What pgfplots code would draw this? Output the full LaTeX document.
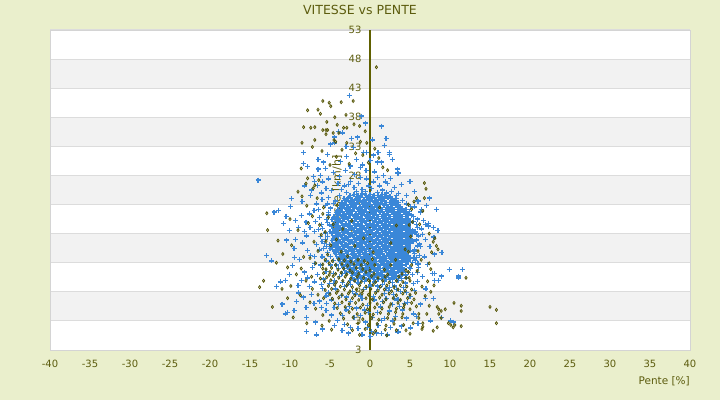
\documentclass[border=0pt]{standalone}
\usepackage{pgfplots}
\pgfplotsset{compat=1.18}
\usepackage{fontspec}
\setmainfont{DejaVu Sans}
\definecolor{bg}{RGB}{234,239,204}
\definecolor{bandgray}{RGB}{242,242,242}
\definecolor{gridgray}{RGB}{220,220,220}
\definecolor{bordergray}{RGB}{212,212,212}
\definecolor{txt}{RGB}{92,92,14}
\definecolor{axisol}{RGB}{96,96,0}
\definecolor{ptblue}{RGB}{58,135,216}
\definecolor{ptolive}{RGB}{82,82,0}
\begin{document}
\begin{tikzpicture}[x=1pt,y=1pt]
\path[use as bounding box] (0,0) rectangle (720,400);
\fill[bg] (0,0) rectangle (720,400);
\fill[white] (50,50) rectangle (690,370);
\foreach \i in {1,3,5,7,9} {\fill[bandgray] (50,{50+\i*320/11}) rectangle (690,{50+(\i+1)*320/11});}
\begin{axis}[
  at={(50pt,50pt)}, anchor=south west, scale only axis,
  width=640pt, height=320pt,
  xmin=-40, xmax=40, ymin=-2, ymax=53,
  xtick={-40,-35,...,40}, ytick={-2,3,...,53},
  yticklabels={3,3,8,13,18,23,28,33,38,43,48,53},
  axis line style={draw=bordergray, line width=0.8pt},
  ymajorgrids, grid style={draw=gridgray, line width=1pt},
  major tick length=0pt,
  tick label style={font=\fontsize{10}{12}\selectfont, text=txt},
  yticklabel style={xshift=315pt},
  xticklabel style={yshift=-7pt},
  /pgf/number format/assume math mode=true,
]
\node[rotate=90, font=\fontsize{11}{13}\selectfont, text=txt] at (axis cs:-4.1,24.6) {Vitesse [km/h]};
% blue series
\addplot[only marks, mark=+, mark size=2.5pt, color=ptblue, mark options={line width=1.3pt}] coordinates {
(-2.5,24.5)(-2,24.7)(-1.5,24.6)(-1,24.8)(-0.5,24.5)(0,24.7)(0.5,24.6)(1,24.5)(1.5,24.7)(2,24.6)(2.5,24.4)
(-3.25,24)(-2.75,24.1)(-2.25,23.9)(-1.75,24)(-1.25,24.2)(-0.75,23.9)(-0.25,24.1)(0.25,24)(0.75,23.8)(1.25,24.1)(1.75,24)(2.25,24.2)(2.75,23.9)(3.25,24)
(-3.5,23.4)(-3,23.5)(-2.5,23.3)(-2,23.4)(-1.5,23.6)(-1,23.3)(-0.5,23.4)(0,23.5)(0.5,23.3)(1,23.4)(1.5,23.6)(2,23.4)(2.5,23.3)(3,23.5)(3.5,23.4)
(-3.75,22.8)(-3.25,22.9)(-2.75,22.7)(-2.25,22.8)(-1.75,23)(-1.25,22.7)(-0.75,22.8)(-0.25,22.9)(0.25,22.7)(0.75,22.8)(1.25,23)(1.75,22.8)(2.25,22.7)(2.75,22.9)(3.25,22.8)(3.75,22.7)
(-4,22.2)(-3.5,22.3)(-3,22.1)(-2.5,22.2)(-2,22.4)(-1.5,22.1)(-1,22.2)(-0.5,22.3)(0,22.1)(0.5,22.2)(1,22.4)(1.5,22.2)(2,22.1)(2.5,22.3)(3,22.2)(3.5,22.1)(4,22.3)(4.5,22.2)
(-4.25,21.6)(-3.75,21.7)(-3.25,21.5)(-2.75,21.6)(-2.25,21.8)(-1.75,21.5)(-1.25,21.6)(-0.75,21.7)(-0.25,21.5)(0.25,21.6)(0.75,21.8)(1.25,21.6)(1.75,21.5)(2.25,21.7)(2.75,21.6)(3.25,21.5)(3.75,21.7)(4.25,21.6)(4.75,21.5)
(-4.5,21)(-4,21.1)(-3.5,20.9)(-3,21)(-2.5,21.2)(-2,20.9)(-1.5,21)(-1,21.1)(-0.5,20.9)(0,21)(0.5,21.2)(1,21)(1.5,20.9)(2,21.1)(2.5,21)(3,20.9)(3.5,21.1)(4,21)(4.5,20.9)
(-4.75,20.4)(-4.25,20.5)(-3.75,20.3)(-3.25,20.4)(-2.75,20.6)(-2.25,20.3)(-1.75,20.4)(-1.25,20.5)(-0.75,20.3)(-0.25,20.4)(0.25,20.6)(0.75,20.4)(1.25,20.3)(1.75,20.5)(2.25,20.4)(2.75,20.3)(3.25,20.5)(3.75,20.4)(4.25,20.3)(4.75,20.5)
(-4.5,19.8)(-4,19.9)(-3.5,19.7)(-3,19.8)(-2.5,20)(-2,19.7)(-1.5,19.8)(-1,19.9)(-0.5,19.7)(0,19.8)(0.5,20)(1,19.8)(1.5,19.7)(2,19.9)(2.5,19.8)(3,19.7)(3.5,19.9)(4,19.8)(4.5,19.7)(5,19.9)
(-4.75,19.2)(-4.25,19.3)(-3.75,19.1)(-3.25,19.2)(-2.75,19.4)(-2.25,19.1)(-1.75,19.2)(-1.25,19.3)(-0.75,19.1)(-0.25,19.2)(0.25,19.4)(0.75,19.2)(1.25,19.1)(1.75,19.3)(2.25,19.2)(2.75,19.1)(3.25,19.3)(3.75,19.2)(4.25,19.1)(4.75,19.3)
(-4.5,18.6)(-4,18.7)(-3.5,18.5)(-3,18.6)(-2.5,18.8)(-2,18.5)(-1.5,18.6)(-1,18.7)(-0.5,18.5)(0,18.6)(0.5,18.8)(1,18.6)(1.5,18.5)(2,18.7)(2.5,18.6)(3,18.5)(3.5,18.7)(4,18.6)(4.5,18.5)(5,18.7)
(-4.75,18)(-4.25,18.1)(-3.75,17.9)(-3.25,18)(-2.75,18.2)(-2.25,17.9)(-1.75,18)(-1.25,18.1)(-0.75,17.9)(-0.25,18)(0.25,18.2)(0.75,18)(1.25,17.9)(1.75,18.1)(2.25,18)(2.75,17.9)(3.25,18.1)(3.75,18)(4.25,17.9)(4.75,18.1)(5.25,18)
(-4.5,17.4)(-4,17.5)(-3.5,17.3)(-3,17.4)(-2.5,17.6)(-2,17.3)(-1.5,17.4)(-1,17.5)(-0.5,17.3)(0,17.4)(0.5,17.6)(1,17.4)(1.5,17.3)(2,17.5)(2.5,17.4)(3,17.3)(3.5,17.5)(4,17.4)(4.5,17.3)(5,17.5)
(-4.75,16.8)(-4.25,16.9)(-3.75,16.7)(-3.25,16.8)(-2.75,17)(-2.25,16.7)(-1.75,16.8)(-1.25,16.9)(-0.75,16.7)(-0.25,16.8)(0.25,17)(0.75,16.8)(1.25,16.7)(1.75,16.9)(2.25,16.8)(2.75,16.7)(3.25,16.9)(3.75,16.8)(4.25,16.7)(4.75,16.9)(5.25,16.8)
(-4.5,16.2)(-4,16.3)(-3.5,16.1)(-3,16.2)(-2.5,16.4)(-2,16.1)(-1.5,16.2)(-1,16.3)(-0.5,16.1)(0,16.2)(0.5,16.4)(1,16.2)(1.5,16.1)(2,16.3)(2.5,16.2)(3,16.1)(3.5,16.3)(4,16.2)(4.5,16.1)(5,16.3)
(-4.75,15.6)(-4.25,15.7)(-3.75,15.5)(-3.25,15.6)(-2.75,15.8)(-2.25,15.5)(-1.75,15.6)(-1.25,15.7)(-0.75,15.5)(-0.25,15.6)(0.25,15.8)(0.75,15.6)(1.25,15.5)(1.75,15.7)(2.25,15.6)(2.75,15.5)(3.25,15.7)(3.75,15.6)(4.25,15.5)(4.75,15.7)
(-4.5,15)(-4,15.1)(-3.5,14.9)(-3,15)(-2.5,15.2)(-2,14.9)(-1.5,15)(-1,15.1)(-0.5,14.9)(0,15)(0.5,15.2)(1,15)(1.5,14.9)(2,15.1)(2.5,15)(3,14.9)(3.5,15.1)(4,15)(4.5,14.9)(5,15.1)
(-4.25,14.4)(-3.75,14.5)(-3.25,14.3)(-2.75,14.4)(-2.25,14.6)(-1.75,14.3)(-1.25,14.4)(-0.75,14.5)(-0.25,14.3)(0.25,14.4)(0.75,14.6)(1.25,14.4)(1.75,14.3)(2.25,14.5)(2.75,14.4)(3.25,14.3)(3.75,14.5)(4.25,14.4)(4.75,14.3)
(-4,13.8)(-3.5,13.9)(-3,13.7)(-2.5,13.8)(-2,14)(-1.5,13.7)(-1,13.8)(-0.5,13.9)(0,13.7)(0.5,13.8)(1,14)(1.5,13.8)(2,13.7)(2.5,13.9)(3,13.8)(3.5,13.7)(4,13.9)(4.5,13.8)(5,13.7)
(-3.75,13.2)(-3.25,13.3)(-2.75,13.1)(-2.25,13.2)(-1.75,13.4)(-1.25,13.1)(-0.75,13.2)(-0.25,13.3)(0.25,13.1)(0.75,13.2)(1.25,13.4)(1.75,13.2)(2.25,13.1)(2.75,13.3)(3.25,13.2)(3.75,13.1)(4.25,13.3)(4.75,13.2)
(-3.5,12.6)(-3,12.7)(-2.5,12.5)(-2,12.6)(-1.5,12.8)(-1,12.5)(-0.5,12.6)(0,12.7)(0.5,12.5)(1,12.6)(1.5,12.8)(2,12.6)(2.5,12.5)(3,12.7)(3.5,12.6)(4,12.5)(4.5,12.7)
(-3.25,12)(-2.75,12.1)(-2.25,11.9)(-1.75,12)(-1.25,12.2)(-0.75,11.9)(-0.25,12)(0.25,12.1)(0.75,11.9)(1.25,12)(1.75,12.2)(2.25,12)(2.75,11.9)(3.25,12.1)(3.75,12)(4.25,11.9)
(-3,11.4)(-2.5,11.5)(-2,11.3)(-1.5,11.4)(-1,11.6)(-0.5,11.3)(0,11.4)(0.5,11.5)(1,11.3)(1.5,11.4)(2,11.6)(2.5,11.4)(3,11.3)(3.5,11.5)(4,11.4)
(-2.25,10.8)(-1.75,10.9)(-1.25,10.7)(-0.75,10.8)(-0.25,11)(0.25,10.7)(0.75,10.8)(1.25,10.9)(1.75,10.7)(2.25,10.8)(2.75,11)(3.25,10.8)(3.75,10.7)
(-2,10.2)(-1.5,10.3)(-1,10.1)(-0.5,10.2)(0,10.4)(0.5,10.1)(1,10.2)(1.5,10.3)(2,10.1)(2.5,10.2)(3,10.4)
(-2.9,25.1)(-1.7,25.3)(-0.6,25.2)(0.9,25.1)(2.1,25.0)(3.3,24.6)(-3.8,24.5)(-4.3,23.6)(4.1,23.7)(4.6,23.1)(-0.2,26.2)(1.9,26.9)(-2.7,26.4)(-1.2,27.6)(0.9,27.7)
(5.4,20.1)(5.9,19.1)(5.7,18.3)(6.1,17.6)(5.8,16.9)(6.3,15.8)(5.9,15.9)(5.5,14.9)(6.2,14.2)(5.8,13.9)(5.3,13.0)(6.0,12.8)(5.1,12.0)(4.8,11.3)(4.4,10.9)(3.9,10.3)(6.6,17.9)(6.9,19.6)(6.4,22.1)(5.1,22.7)(4.9,21.8)(5.2,21.2)
(-5.2,21.2)(-5.4,20.4)(-5.1,19.5)(-5.6,18.1)(-5.3,17.5)(-5.7,16.3)(-5.0,15.4)(-5.4,15.8)(-4.9,14.1)(-4.6,13.4)(-4.2,12.6)(-3.9,12.0)(-3.5,11.1)(-4.9,22.4)(-4.6,23.2)(-6.1,19.6)(-6.4,18.7)(-6.0,16.7)(-6.3,15.2)
(-1.6,9.6)(-0.7,9.8)(0.6,9.7)(1.8,9.8)(2.8,9.6)(3.5,9.9)(-2.5,9.9)(0.1,9.0)(1.2,8.8)(2.4,8.7)
(-2.6,41.7)(-1.1,38.2)(-0.6,37.0)(1.4,36.5)(-3.9,35.5)(-3.4,35.3)(-4.4,34.6)(-2.3,34.4)(-1.6,34.6)(2.0,34.3)(0.3,34.1)(-4.9,33.4)(-4.4,33.6)(1.8,33.2)(2.4,32.0)(2.4,31.6)(-0.4,32.0)(-0.8,32.0)(0.4,31.5)(-8.3,31.9)(-8.3,30.0)(-7.8,29.5)(-6.5,29.1)(-6.5,30.7)(-5.8,30.3)(0.9,30.3)(1.4,30.3)(2.8,30.7)(3.4,29.1)(3.5,28.4)(5.0,27.0)(3.9,26.4)(5.6,25.2)(4.6,24.6)
(-3.1,28.9)(-2.5,29.6)(-1.9,28.2)(-1.2,29.4)(-0.5,28.8)(0.6,28.6)(1.7,28.0)(2.6,27.5)(-3.8,27.8)(-4.6,28.5)(-5.2,27.4)(-4.0,26.6)(-3.2,26.2)(-2.4,27.0)(-1.4,26.6)(-0.4,27.4)(0.4,26.9)(1.2,26.2)(2.2,26.6)(3.1,25.9)(-5.5,25.8)(-4.8,25.4)(-3.6,25.6)(-2.0,25.9)(-1.0,25.6)(0.2,25.8)(1.6,25.5)(2.7,25.3)(3.6,24.9)(-6.2,28.0)(-5.6,29.2)(-3.7,30.4)(-2.9,31.2)(-1.7,30.8)(-0.9,29.8)(0.0,30.6)(1.0,31.9)(-2.1,32.8)(-3.0,33.0)(-5.3,31.6)(-6.9,27.0)(-7.3,25.5)(-6.6,26.3)
(7.1,22.8)(8.3,22.2)(6.3,21.7)(5.4,21.0)(5.6,22.6)(6.0,23.6)(7.4,24.1)(6.7,20.2)(7.3,19.7)(7.3,19.3)(7.9,19.0)(8.5,18.5)(5.9,20.5)(6.4,18.8)(8.0,17.4)(5.8,17.8)(6.9,17.0)(6.2,16.2)(7.5,15.8)(5.6,15.2)(9.0,14.8)(8.1,14.5)(6.8,14.0)(5.7,13.4)(7.2,12.7)(6.1,12.2)(9.9,11.8)(11.6,11.8)(8.1,11.1)(7.8,11.1)(8.9,10.7)(8.6,9.9)(8.1,9.9)(11.1,10.7)(11.1,10.4)(6.6,10.6)(5.9,9.8)(7.0,8.5)(5.6,8.2)(6.9,6.9)(7.9,6.8)(6.3,5.9)(5.4,4.2)(10.1,3.0)(10.4,2.8)(8.9,3.6)(7.6,3.0)(6.0,2.6)(5.1,1.8)(4.6,3.5)(4.3,6.0)(5.0,7.2)(5.3,11.0)(5.5,13.9)(5.4,16.6)(5.3,18.6)(5.8,19.6)
(-14.0,27.2)(-12.0,21.7)(-11.4,22.0)(-10.5,21.0)(-12.9,14.2)(-12.3,13.3)(-11.2,9.7)(-10.6,10.0)(-10.1,11.0)(-10.1,18.5)(-10.4,16.9)(-9.3,17.0)(-9.5,15.5)(-8.8,13.5)(-11.0,5.9)(-10.6,4.2)(-10.3,4.5)(-9.5,4.8)(-8.9,7.8)(-7.6,8.9)(-7.3,7.5)(-8.0,5.3)(-6.6,11.0)(-7.5,19.0)(-7.0,22.0)(-8.5,23.5)(-6.1,25.0)(-5.9,26.9)(-7.4,24.5)(-9.3,20.2)(-8.6,21.1)(-9.9,22.7)(-8.0,20.0)(-7.9,17.6)(-6.9,18.4)(-6.3,20.8)(-5.6,22.8)(-6.0,23.9)(-5.2,24.2)(-6.7,16.1)(-5.6,17.0)(-5.9,18.9)(-5.3,19.9)(-5.2,21.6)(-7.8,15.1)(-6.9,14.1)(-5.8,15.4)(-5.4,13.3)(-6.2,12.6)(-7.2,12.2)(-8.2,11.4)(-5.5,11.5)(-6.9,9.7)(-5.9,8.6)(-5.1,9.4)(-6.3,6.4)(-7.9,3.6)(-6.8,2.8)(-5.5,4.8)(-4.8,6.6)(-9.0,9.1)(-8.4,16.4)(-10.8,19.7)(-9.8,24.0)(-8.2,26.2)(-7.1,27.8)(-11.7,8.9)(-9.7,12.5)
(-5.3,23.1)(-6.4,22.2)(-5.0,18.4)(-6.2,17.5)(-5.1,16.1)(-5.3,14.7)(-6.0,14.0)(-4.9,12.6)(-4.6,11.2)(-5.8,10.2)(-4.4,10.0)(-3.8,10.6)(-3.4,9.6)(5.6,14.6)(5.9,11.3)(4.9,12.2)(5.4,9.4)(4.6,10.4)
(-4.3,8.5)(-3.6,7.4)(-2.9,9.1)(-2.2,8.0)(-1.4,9.5)(-0.8,8.4)(0.1,9.2)(0.8,8.0)(1.6,9.3)(2.3,8.2)(3.1,9.0)(3.8,8.1)(4.4,9.5)(-3.9,5.8)(-3.0,4.9)(-2.4,6.3)(-1.7,5.2)(-1.0,6.8)(-0.3,5.6)(0.5,6.6)(1.3,5.4)(2.0,6.9)(2.8,5.8)(3.5,6.6)(4.1,4.9)(-4.1,3.1)(-3.2,2.4)(-2.0,3.6)(-1.5,1.7)(-0.6,2.8)(0.2,1.2)(0.3,3.6)(1.0,2.2)(1.8,3.4)(2.6,1.9)(3.2,3.7)(3.9,2.1)(-2.7,0.9)(-1.0,0.6)(0.0,0.3)(1.4,0.8)(2.2,0.6)(-3.5,1.4)(-0.2,4.5)(0.9,4.4)(-1.8,7.6)(2.9,7.5)(-4.8,4.0)(-5.9,1.6)(-6.7,0.6)(-7.9,1.2)
(-4.6,9.4)(-3.2,8.9)(-2.4,9.3)(-0.4,8.7)(0.9,9.0)(2.0,8.6)(3.3,8.4)(4.2,8.7)(-5.2,7.8)(-2.9,7.1)(-1.2,7.3)(0.4,7.2)(1.8,7.7)(3.1,6.9)(4.6,7.9)(-4.5,5.3)(-2.6,5.5)(-0.7,4.9)(1.6,6.3)(2.4,4.7)(3.7,5.5)(4.7,6.2)(-3.4,3.9)(-1.2,3.9)(1.4,3.1)(2.8,3.0)(-2.4,1.9)(-0.3,1.9)(0.8,0.9)(3.5,1.1)(5.8,3.8)(-5.4,6.0)(-6.1,5.3)(-4.4,2.2)
(-7.8,10.4)(-8.6,9.9)(-6.9,12.9)(-7.4,14.2)(-8.2,18.4)(-6.8,20.1)(-7.6,21.4)(-6.7,23.1)(-8.9,19.1)(-9.4,13.9)(-8.3,7.1)(-6.1,9.2)(-5.5,7.3)(-7.0,6.0)(-9.2,6.3)
};
% olive series
\addplot[only marks, mark=diamond, mark size=1.5pt, color=ptolive, mark options={line width=0.75pt}] coordinates {
(0.8,46.6)(-5.9,40.8)(-5.1,40.5)(-4.9,39.9)(-3.6,40.6)(-2.1,40.8)(-6.5,39.3)(-5.4,37.2)(-8.3,36.3)(-7.4,36.2)(-6.9,36.3)(-5.9,35.8)(-5.5,35.8)(-5.3,35.8)(-5.5,35.1)(-4.6,35.3)(-4.1,36.7)(-3.9,35.3)(-3.3,36.2)(-2.9,36.2)(-4.5,34.1)(-4.3,33.8)(-6.9,34.1)(-2.9,33.6)(-2.0,36.8)(-1.3,36.5)(-0.6,35.6)(-0.4,33.6)(-0.9,31.5)(1.1,31.0)
(-7.8,27.5)(-8.0,26.6)(-7.1,25.8)(-6.4,27.2)(-5.0,29.8)(-4.2,31.2)(-3.5,32.4)(-2.6,30.0)(-1.8,31.8)(-1.2,33.8)(-0.2,30.2)(0.6,32.6)(1.6,29.4)(2.2,28.9)(-6.0,32.2)(-7.2,32.9)(-8.6,29.2)(-9.0,25.2)(-3.0,38.4)(-4.4,38.0)(-6.2,38.6)(-7.8,39.2)(-8.5,33.6)
(6.8,26.7)(7.0,25.7)(6.8,24.1)(5.8,24.1)(4.8,23.0)(5.5,23.5)(7.4,18.0)(8.1,17.2)(8.3,15.9)(7.9,16.6)(8.5,15.3)(7.7,14.8)(7.4,12.9)(6.2,19.6)(6.6,21.9)(5.3,20.0)(6.0,15.0)(6.4,13.5)(5.9,11.6)(7.6,11.9)(8.0,9.1)(7.2,9.8)(6.5,8.9)(5.7,7.8)(4.9,10.4)(5.2,12.6)(4.8,14.9)(5.1,17.5)(4.9,19.5)(5.2,22.2)
(10.5,6.1)(11.4,5.6)(11.4,4.7)(15.0,5.4)(15.8,4.9)(15.8,2.6)(8.4,5.4)(8.6,5.0)(8.9,4.7)(9.4,5.0)(8.6,4.2)(8.9,3.5)(9.8,2.6)(10.1,2.3)(10.6,2.3)(11.4,2.1)(10.4,1.9)(8.4,1.9)(7.1,4.2)(7.4,5.6)(6.1,4.2)(6.1,3.5)(6.6,2.6)(6.5,1.6)(6.6,2.0)(5.4,2.6)(5.8,5.5)(6.9,7.3)(7.6,8.0)(12.0,10.4)(5.0,0.8)(4.5,1.4)(7.9,1.3)
(-12.9,21.5)(-12.8,18.6)(-10.0,20.5)(-13.3,9.9)(-13.8,8.8)(-11.0,8.5)(-9.9,9.0)(-10.3,6.9)(-9.6,3.6)(-7.9,2.6)(-8.6,12.0)(-8.3,14.0)(-9.0,18.6)(-7.7,19.8)(-7.9,22.8)(-8.5,24.4)(-6.6,24.1)(-7.2,21.0)(-6.3,19.5)(-7.0,16.6)(-6.1,17.8)(-5.6,18.3)(-6.5,15.0)(-5.3,14.4)(-7.5,13.8)(-6.8,12.9)(-5.9,12.0)(-7.3,10.6)(-6.2,10.3)(-5.1,10.9)(-8.0,9.9)(-7.2,8.5)(-6.5,7.5)(-5.8,6.9)(-7.5,6.2)(-6.8,5.1)(-5.9,4.0)(-5.1,3.0)(-6.0,2.2)(-4.8,1.5)(-11.7,13.0)(-10.9,14.5)(-9.8,16.0)(-10.3,12.2)(-9.2,11.0)(-8.7,7.4)(-12.2,5.4)(-11.5,16.8)(-6.9,26.3)(-5.8,22.5)(-5.2,20.8)(-5.9,21.4)(-4.9,16.0)(-5.5,16.7)
(-2.3,20.2)(1.2,22.5)(-0.8,17.2)(2.6,16.4)(-3.4,18.8)(0.4,14.8)(-1.9,15.9)(3.3,19.4)(-4.1,22.9)(4.4,15.3)(-4.6,19.6)(-4.2,17.0)(-3.6,14.9)(-2.8,14.1)
(-5.6,13.5)(-4.7,13.3)(-3.9,13.6)(-3.2,13.4)(-2.4,13.2)(-1.5,13.5)(-0.7,13.3)(0.3,13.6)(3.2,13.5)
(-5.9,12.7)(-5.1,12.9)(-4.3,12.6)(-3.5,12.8)(-2.8,12.5)(-2.0,12.8)(-1.1,12.6)(-0.3,12.9)(0.6,12.6)(2.6,12.6)
(-5.5,11.9)(-4.8,12.1)(-4.0,11.8)(-3.3,12.0)(-2.5,11.7)(-1.7,12.1)(-0.9,11.9)(0.0,11.7)(1.8,11.8)(4.5,11.7)
(-5.8,11.2)(-5.0,11.4)(-4.3,11.1)(-3.6,11.3)(-2.9,11.0)(-2.2,11.3)(-1.4,11.1)(-0.5,11.4)(0.5,11.1)(2.2,11.0)(4.0,11.1)(4.8,11.4)
(-5.4,10.5)(-4.6,10.7)(-3.9,10.4)(-3.1,10.6)(-2.4,10.3)(-1.6,10.6)(-0.8,10.4)(0.2,10.7)(1.0,10.4)(1.9,10.6)(3.6,10.6)(4.5,10.4)
(-5.7,9.8)(-4.9,10.0)(-4.2,9.7)(-3.4,9.9)(-2.7,9.6)(-1.9,9.9)(-1.1,9.7)(-0.2,10.0)(0.7,9.7)(1.6,9.9)(2.4,9.6)(3.3,9.9)(4.1,9.7)(5.0,9.9)
(-5.2,9.0)(-4.4,9.2)(-3.7,8.9)(-2.9,9.1)(-2.2,8.8)(-1.3,9.1)(-0.5,8.9)(0.4,9.2)(1.3,8.9)(2.1,9.1)(3.0,8.8)(3.8,9.1)(4.6,8.9)
(-5.6,8.3)(-4.8,8.5)(-4.0,8.2)(-3.2,8.4)(-2.5,8.1)(-1.7,8.4)(-0.9,8.2)(0.1,8.5)(1.0,8.2)(1.8,8.4)(2.7,8.1)(3.5,8.4)(4.4,8.2)(5.2,8.4)
(-5.0,7.6)(-4.2,7.8)(-3.5,7.5)(-2.7,7.7)(-1.9,7.4)(-1.0,7.7)(-0.2,7.5)(0.7,7.8)(1.5,7.5)(2.4,7.7)(3.3,7.4)(4.1,7.7)(5.0,7.5)
(-4.7,6.8)(-3.9,7.0)(-3.0,6.7)(-2.2,6.9)(-1.4,6.6)(-0.5,6.9)(0.3,6.7)(1.2,7.0)(2.0,6.7)(2.9,6.9)(3.8,6.6)(4.7,6.9)(5.5,6.7)
(-4.4,6.0)(-3.5,6.2)(-2.6,5.9)(-1.8,6.1)(-0.9,5.8)(0.0,6.1)(0.9,5.9)(1.7,6.2)(2.6,5.9)(3.5,6.1)(4.3,5.8)(5.2,6.1)
(-4.1,5.2)(-3.1,5.4)(-2.2,5.1)(-1.2,5.3)(-0.3,5.0)(0.6,5.3)(1.5,5.1)(2.4,5.4)(3.3,5.1)(4.2,5.3)(5.0,5.0)
(-3.7,4.3)(-2.6,4.5)(-1.6,4.2)(-0.6,4.4)(0.4,4.1)(1.3,4.4)(2.3,4.2)(3.2,4.5)(4.1,4.2)
(-3.3,3.4)(-2.1,3.6)(-0.9,3.3)(0.2,3.5)(1.1,3.2)(2.2,3.5)(3.1,3.3)(4.0,3.6)
(-2.8,2.4)(-1.5,2.6)(-0.2,2.3)(0.9,2.5)(2.0,2.2)(3.0,2.5)(4.2,2.3)
(-2.2,1.4)(-0.6,1.6)(0.7,1.3)(1.9,1.5)(3.3,1.4)
(-1.3,0.6)(0.4,0.8)(2.1,0.5)
};
\draw[axisol, line width=1.3pt] (axis cs:0,-2) -- (axis cs:0,53);
\end{axis}
\node[font=\fontsize{12.5}{15}\selectfont, text=txt] at (360,390) {VITESSE vs PENTE};
\node[anchor=east, inner sep=0pt, font=\fontsize{10.5}{12}\selectfont, text=txt] at (690,19) {Pente [\%]};
\end{tikzpicture}
\end{document}
